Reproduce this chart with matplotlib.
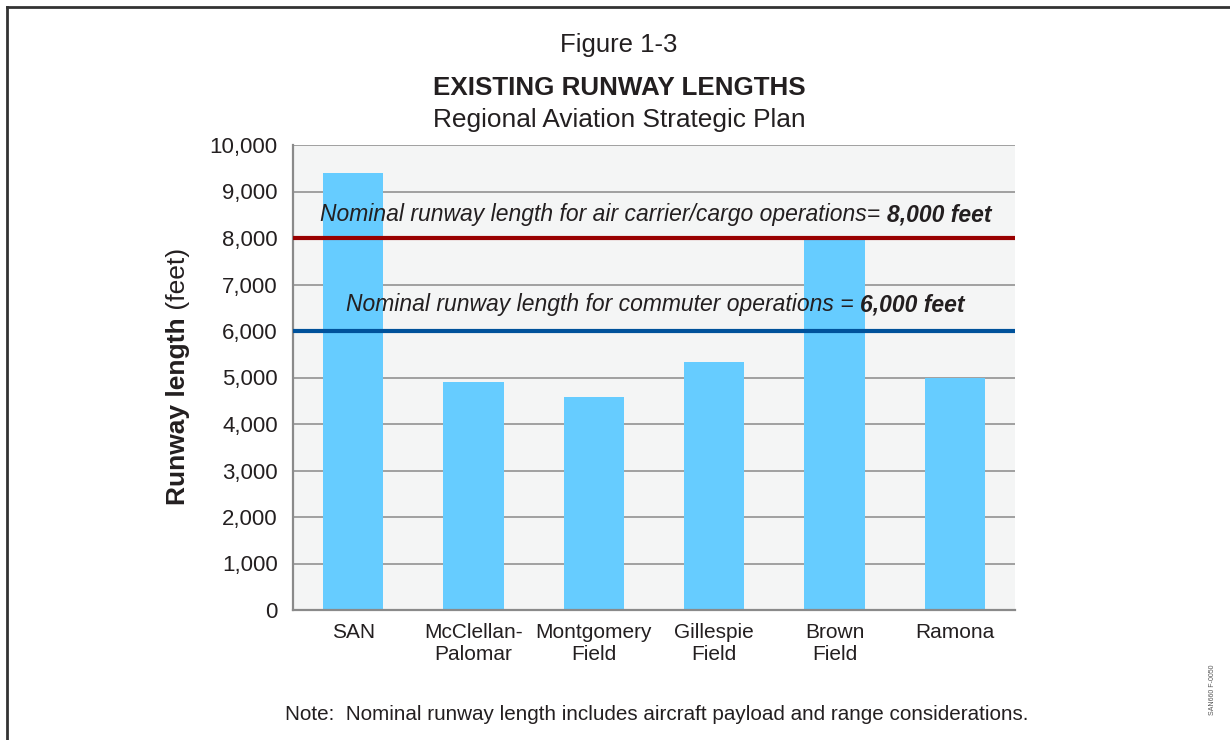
import matplotlib
matplotlib.use("Agg")
import matplotlib.pyplot as plt
from matplotlib.lines import Line2D
from matplotlib.text import Annotation

plt.rcParams['font.family'] = ['Liberation Sans', 'DejaVu Sans']

categories = ["SAN", "McClellan-\nPalomar", "Montgomery\nField", "Gillespie\nField", "Brown\nField", "Ramona"]
lengths = [9400, 4897, 4577, 5342, 7972, 5000]
yticks = [0, 1000, 2000, 3000, 4000, 5000, 6000, 7000, 8000, 9000, 10000]
ytick_labels = ["0", "1,000", "2,000", "3,000", "4,000", "5,000", "6,000", "7,000", "8,000", "9,000", "10,000"]
carrier_len = 8000
commuter_len = 6000

TXT = '#231f20'
fig = plt.figure(figsize=(12.3, 7.4), dpi=100)
ax = fig.add_axes([293/1230, 1-610/740, (1015-293)/1230, (610-145)/740])
ax.set_facecolor('#f4f5f5')

x = list(range(len(categories)))
ax.bar(x, lengths, width=0.5, color='#66ccff', zorder=2)
ax.set_xlim(-0.5, len(categories)-0.5)
ax.set_ylim(0, 10000)
ax.set_yticks(yticks)
ax.set_yticklabels(ytick_labels)
ax.set_xticks(x)
ax.set_xticklabels(categories, linespacing=1.25)
ax.tick_params(axis='y', length=0, pad=11, labelsize=16, labelcolor=TXT)
ax.tick_params(axis='x', length=0, pad=9, labelsize=15, labelcolor=TXT)
ax.yaxis.grid(True, color='#9a9a9a', linewidth=1.3, zorder=1)
ax.set_axisbelow(True)
for s in ['top', 'right']:
    ax.spines[s].set_visible(False)
for s in ['left', 'bottom']:
    ax.spines[s].set_color('#8a8a8a')
    ax.spines[s].set_linewidth(1.6)

ax.axhline(carrier_len, color='#990000', linewidth=3.0, zorder=3)
ax.axhline(commuter_len, color='#00529b', linewidth=3.0, zorder=3)

t1 = ax.text(0.038, 0.850, "Nominal runway length for air carrier/cargo operations= ",
             transform=ax.transAxes, fontsize=16.5, style='italic', color=TXT,
             ha='left', va='center', zorder=4)
ax.annotate("8,000 feet", xy=(1, 0), xycoords=t1, ha='left', va='bottom',
            fontsize=16.5, style='italic', weight='bold', color=TXT, zorder=4)
t2 = ax.text(0.074, 0.656, "Nominal runway length for commuter operations = ",
             transform=ax.transAxes, fontsize=16.5, style='italic', color=TXT,
             ha='left', va='center', zorder=4)
ax.annotate("6,000 feet", xy=(1, 0), xycoords=t2, ha='left', va='bottom',
            fontsize=16.5, style='italic', weight='bold', color=TXT, zorder=4)

# y label
yl = fig.text(178/1230, 1-505/740, "Runway length", rotation=90, fontsize=19,
              weight='bold', color=TXT, ha='center', va='bottom')
an = Annotation(" (feet)", xy=(0, 1), xycoords=yl, ha='left', va='bottom',
                rotation=90, fontsize=19, color=TXT)
fig.add_artist(an)

# titles
fig.text(619/1230, 1-45/740, "Figure 1-3", fontsize=18.5, color=TXT, ha='center', va='center')
fig.text(619/1230, 1-88/740, "EXISTING RUNWAY LENGTHS", fontsize=18.7, weight='bold', color=TXT, ha='center', va='center')
fig.text(619/1230, 1-120/740, "Regional Aviation Strategic Plan", fontsize=18.9, color=TXT, ha='center', va='center')

fig.text(657/1230, 1-714/740, "Note:  Nominal runway length includes aircraft payload and range considerations.",
         fontsize=14.9, color=TXT, ha='center', va='center')
fig.text(1213/1230, 1-690/740, "SAN660 F-0050", fontsize=5, rotation=90, color='#555555', ha='center', va='center')

# frame lines (left and top)
fig.add_artist(Line2D([6.5/1230, 6.5/1230], [0, 1-6.5/740], color='#333333', linewidth=2.0))
fig.add_artist(Line2D([6.5/1230, 1], [1-6.5/740, 1-6.5/740], color='#333333', linewidth=2.0))

fig.savefig("out.png", dpi=100)
